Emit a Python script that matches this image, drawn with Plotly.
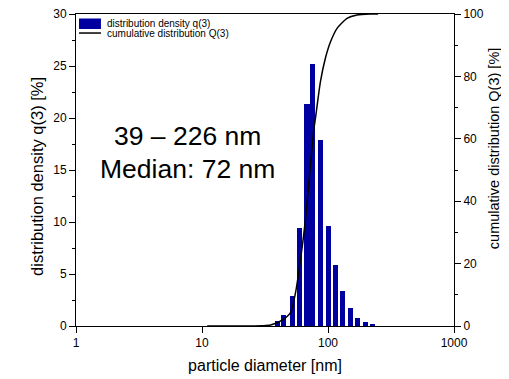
import numpy as np
import plotly.graph_objects as go

# bar classes (particle diameter, nm) and density q3 (%)
bar_diam = [39.4, 44.7, 52.3, 58.9, 68.1, 75.9, 87.9, 101.6, 115.5, 131.3, 151.8, 172.6, 199.5, 226.0]
bar_q3 = [0.5, 1.05, 2.9, 9.45, 21.3, 25.2, 17.9, 9.6, 5.9, 3.4, 1.7, 0.8, 0.4, 0.2]

# cumulative distribution Q3 (%)
cum_diam = [11, 20, 30, 35, 43.3, 50.4, 55.2, 60.4, 66.2, 71.6, 77.1, 79.5, 87.1, 95.3, 104.5, 118, 141.6, 170, 216.6, 250]
cum_Q3 = [0, 0, 0.1, 0.3, 1.9, 4.3, 10.6, 21, 34, 49, 62.8, 66.6, 78.3, 85.8, 91, 95.4, 98.6, 99.7, 100, 100]

x_tickvals = [1, 10, 100, 1000]
x_ticktext = ["1", "10", "100", "1000"]

legend_names = ["distribution density q(3)", "cumulative distribution Q(3)"]
x_title = "particle diameter [nm]"
y_title = "distribution density q(3) [%]"
y2_title = "cumulative distribution Q(3) [%]"
BAR_COLOR = "#0000A0"
FONT = "Arial, Liberation Sans, sans-serif"

fig = go.Figure()
fig.add_trace(go.Bar(
    x=np.log10(bar_diam), y=bar_q3, width=0.04,
    marker=dict(color=BAR_COLOR, line=dict(width=0)),
    name=legend_names[0], xaxis="x", yaxis="y", showlegend=False,
))
fig.add_trace(go.Scatter(
    x=np.log10(cum_diam), y=cum_Q3, mode="lines",
    line=dict(color="black", width=1.5, shape="spline", smoothing=0.6),
    name=legend_names[1], xaxis="x", yaxis="y2", showlegend=False,
))

# text annotations
fig.add_annotation(text="39 – 226 nm", xref="paper", yref="paper", x=0.296, y=0.609,
                   xanchor="center", yanchor="middle",
                   showarrow=False, font=dict(size=26.5, color="black", family=FONT))
fig.add_annotation(text="Median: 72 nm", xref="paper", yref="paper", x=0.296, y=0.503,
                   xanchor="center", yanchor="middle",
                   showarrow=False, font=dict(size=26.5, color="black", family=FONT))

# y axis titles as rotated annotations (positioned like the reference)
fig.add_annotation(text=y_title, xref="paper", yref="paper", x=-0.103, y=0.478,
                   xanchor="center", yanchor="middle", textangle=-90, showarrow=False,
                   font=dict(size=16.5, color="black", family=FONT))
fig.add_annotation(text=y2_title, xref="paper", yref="paper", x=1.106, y=0.567,
                   xanchor="center", yanchor="middle", textangle=-90, showarrow=False,
                   font=dict(size=14.5, color="black", family=FONT))

# legend (drawn in paper coordinates)
fig.add_shape(type="rect", xref="paper", yref="paper", x0=0.008, x1=0.066, y0=0.952, y1=0.9856,
              fillcolor=BAR_COLOR, line=dict(width=0))
fig.add_shape(type="line", xref="paper", yref="paper", x0=0.008, x1=0.066, y0=0.939, y1=0.939,
              line=dict(color="black", width=1.5))
fig.add_annotation(text=legend_names[0], xref="paper", yref="paper", x=0.0767, y=0.969,
                   xanchor="left", yanchor="middle", showarrow=False,
                   font=dict(size=10, color="black", family=FONT))
fig.add_annotation(text=legend_names[1], xref="paper", yref="paper", x=0.0767, y=0.939,
                   xanchor="left", yanchor="middle", showarrow=False,
                   font=dict(size=10, color="black", family=FONT))

# the page body adds an 8px margin, so the figure is 8px smaller and margins shifted
fig.update_layout(
    width=501, height=371,
    margin=dict(l=68, r=55, t=6, b=53, autoexpand=False),
    paper_bgcolor="white", plot_bgcolor="white",
    font=dict(family=FONT, size=12, color="black"),
    showlegend=False,
    bargap=0,
    xaxis=dict(range=[0, 3], tickvals=np.log10(x_tickvals), ticktext=x_ticktext,
               ticks="outside", ticklen=6, tickcolor="black", showline=True, linecolor="black",
               linewidth=1, mirror=True, showgrid=False, zeroline=False, automargin=False,
               ticklabeloverflow="allow",
               title=dict(text=x_title, font=dict(size=16), standoff=10)),
    yaxis=dict(range=[0, 30], dtick=5, ticks="outside", ticklen=6, tickcolor="black",
               showline=True, linecolor="black", linewidth=1, showgrid=False, zeroline=False,
               automargin=False, ticklabeloverflow="allow",
               minor=dict(dtick=2.5, ticks="outside", ticklen=3, tickcolor="black")),
    yaxis2=dict(range=[0, 100], dtick=20, overlaying="y", side="right", anchor="x",
                ticks="outside", ticklen=6, tickcolor="black", showline=True, linecolor="black",
                linewidth=1, showgrid=False, zeroline=False, automargin=False,
                ticklabeloverflow="allow",
                minor=dict(dtick=10, ticks="outside", ticklen=3, tickcolor="black")),
)

fig.write_html("out.html")
